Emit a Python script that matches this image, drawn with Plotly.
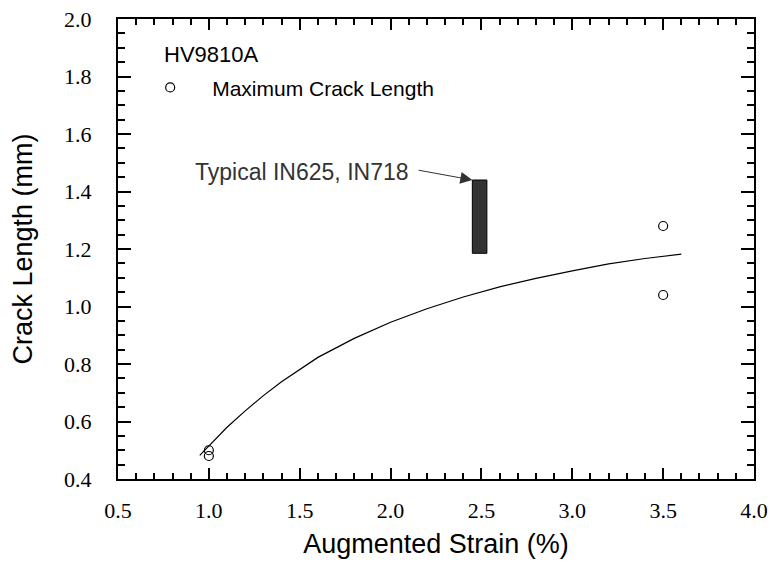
import plotly.graph_objects as go

# Measured points
strain_pts = [1.0, 1.0, 3.5, 3.5]
crack_pts = [0.50, 0.48, 1.28, 1.04]

# Fitted curve
curve_x = [0.95, 1.0, 1.1, 1.2, 1.3, 1.4, 1.5, 1.6, 1.8, 2.0, 2.2, 2.4, 2.6, 2.8, 3.0, 3.2, 3.4, 3.6]
curve_y = [0.482, 0.515, 0.580, 0.637, 0.690, 0.738, 0.782, 0.823, 0.889, 0.945, 0.992, 1.033,
           1.068, 1.098, 1.124, 1.148, 1.167, 1.182]

# Typical IN625/IN718 band
band_x = [2.45, 2.53]
band_y = [1.185, 1.44]
arrow_tail = [2.146, 1.475]

x_ticks = [0.5, 1.0, 1.5, 2.0, 2.5, 3.0, 3.5, 4.0]
y_ticks = [0.4, 0.6, 0.8, 1.0, 1.2, 1.4, 1.6, 1.8, 2.0]

SANS = "Liberation Sans, Arial"
SERIF = "Liberation Serif, Times New Roman"

fig = go.Figure()
fig.add_trace(go.Scatter(x=curve_x, y=curve_y, mode="lines", line=dict(color="black", width=1.2),
                         showlegend=False))
fig.add_trace(go.Scatter(x=strain_pts, y=crack_pts, mode="markers", name="Maximum Crack Length",
                         marker=dict(symbol="circle-open", size=9, color="black", line=dict(width=1.2))))

fig.add_shape(type="rect", x0=band_x[0], x1=band_x[1], y0=band_y[0], y1=band_y[1],
              fillcolor="#333333", line=dict(color="black", width=1))

fig.add_annotation(x=band_x[0], y=band_y[1], ax=arrow_tail[0], ay=arrow_tail[1], axref="x", ayref="y",
                   text="", showarrow=True, arrowhead=2, arrowsize=2.4, arrowwidth=1, arrowcolor="#333333",
                   standoff=0)
fig.add_annotation(x=arrow_tail[0], y=arrow_tail[1], text="Typical IN625, IN718", showarrow=False,
                   xanchor="right", yanchor="middle", xshift=-6, yshift=-2,
                   font=dict(family=SANS, size=23, color="#333333"))

fig.add_annotation(xref="paper", yref="paper", x=0.069, y=0.922, text="HV9810A", showarrow=False,
                   xanchor="left", yanchor="middle", font=dict(family=SANS, size=22, color="black"))

axis_common = dict(showline=True, linecolor="black", linewidth=2, mirror="ticks", automargin=False,
                   ticks="inside", tickcolor="black", tickwidth=1.5, showgrid=False, zeroline=False,
                   tickfont=dict(family=SERIF, size=22, color="black"))

fig.update_xaxes(range=[0.5, 4.0], tickvals=x_ticks, ticktext=[f"{v:.1f}" for v in x_ticks],
                 ticklen=11, ticklabelstandoff=11,
                 minor=dict(dtick=0.1, ticks="inside", ticklen=6, tickcolor="black", tickwidth=1.5),
                 title=dict(text="Augmented Strain (%)", font=dict(family=SANS, size=27, color="black"),
                            standoff=12),
                 **axis_common)
fig.update_yaxes(range=[0.4, 2.0], tickvals=y_ticks, ticktext=[f"{v:.1f}" for v in y_ticks],
                 ticklen=13, ticklabelstandoff=20,
                 minor=dict(dtick=0.05, ticks="inside", ticklen=7, tickcolor="black", tickwidth=1.5),
                 title=dict(text="Crack Length (mm)", font=dict(family=SANS, size=27, color="black"),
                            standoff=24),
                 **axis_common)

fig.update_layout(
    width=769, height=563,
    margin=dict(l=118, r=15, t=19, b=84),
    plot_bgcolor="white", paper_bgcolor="white",
    showlegend=True,
    legend=dict(x=0.016, y=0.895, xanchor="left", yanchor="top", bgcolor="rgba(0,0,0,0)",
                font=dict(family=SANS, size=21, color="black"),
                itemwidth=74),
)

fig.write_html("out.html", config={"displayModeBar": False},
               post_script="document.body.style.margin='0';document.body.style.overflow='hidden';")
